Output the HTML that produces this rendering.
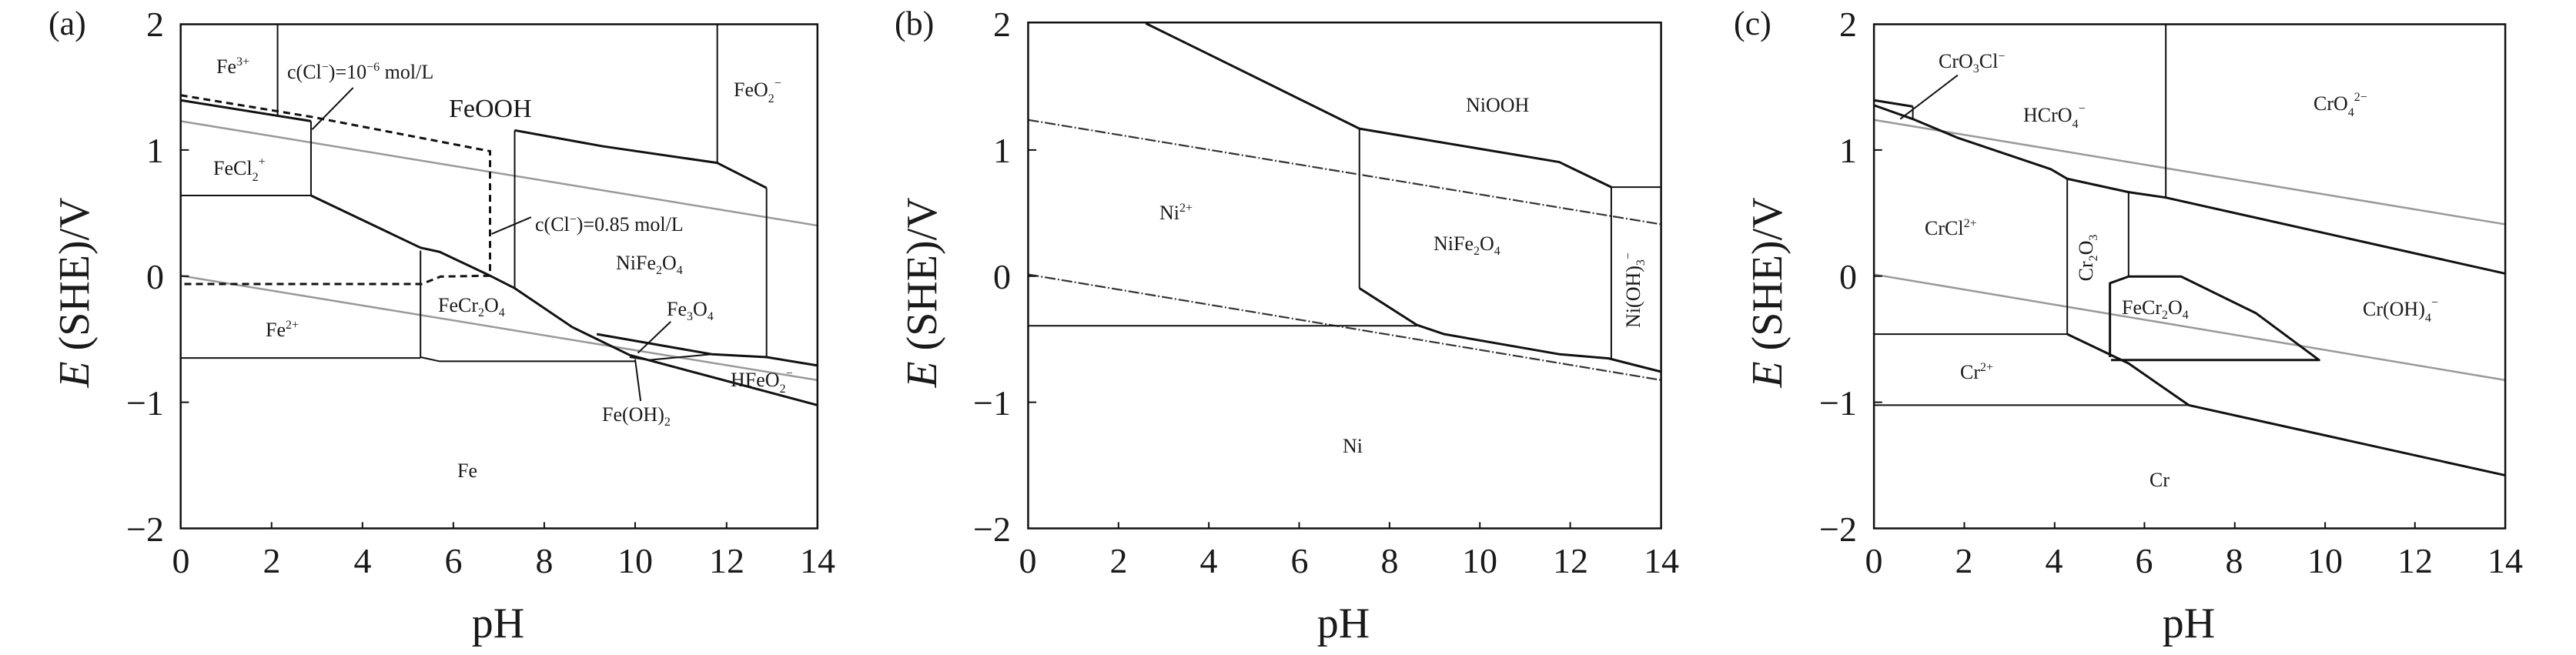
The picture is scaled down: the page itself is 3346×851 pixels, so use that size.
<!DOCTYPE html>
<html><head><meta charset="utf-8"><style>
html,body{margin:0;padding:0;background:#fff;}
svg{display:block;}
text{font-family:"Liberation Serif",serif;fill:#1a1a1a;}
.l{font-size:26px;}
.t{font-size:46px;}
.ax{font-size:56px;}
.thk{stroke:#111;stroke-width:3;fill:none;vector-effect:non-scaling-stroke;stroke-linejoin:round;}
.thn{stroke:#111;stroke-width:2;fill:none;vector-effect:non-scaling-stroke;}
.gr{stroke:#999;stroke-width:2.5;fill:none;vector-effect:non-scaling-stroke;}
.dd{stroke:#333;stroke-width:2.2;fill:none;stroke-dasharray:14 3 2 3;vector-effect:non-scaling-stroke;}
.da{stroke:#111;stroke-width:3;fill:none;stroke-dasharray:9 6;vector-effect:non-scaling-stroke;}
.frame{stroke:#111;stroke-width:2.5;fill:none;vector-effect:non-scaling-stroke;}
</style></head><body>
<svg width="3346" height="851" viewBox="0 0 3346 851" xmlns="http://www.w3.org/2000/svg">
<rect width="3346" height="851" fill="#fff"/>

<!-- PANEL A lines (zoom coordinates) -->
<g transform="translate(0,0) scale(0.7112,0.5427)">
<line class="gr" x1="330" y1="290" x2="1493" y2="540"/>
<line class="gr" x1="330" y1="660" x2="1493" y2="910"/>
<rect class="frame" x="330" y="58" width="1163" height="1207"/>
<path class="thn" d="M330,1265 v0 M496,1265 v-15 M662,1265 v-15 M828,1265 v-15 M994,1265 v-15 M1160,1265 v-15 M1327,1265 v-15 M330,359 h15 M330,661 h15 M330,963 h15"/>
<polyline class="thk" points="330,240 568,290"/>
<line class="thn" x1="568" y1="290" x2="568" y2="468"/>
<line class="thn" x1="330" y1="468" x2="568" y2="468"/>
<polyline class="thk" points="568,468 768,593 803,603 895,660 940,690 1045,783 1150,850 1493,970"/>
<polyline class="thk" points="1090,800 1300,848 1400,855 1493,875"/>
<polyline class="thn" points="1150,855 1185,862 1300,848"/>
<polyline class="thn" points="768,600 768,855 803,865 1160,865"/>
<line class="thn" x1="330" y1="857" x2="768" y2="857"/>
<line class="thn" x1="940" y1="690" x2="940" y2="312"/>
<polyline class="thk" points="940,312 1100,350 1310,390 1400,450"/>
<line class="thn" x1="1400" y1="450" x2="1400" y2="855"/>
<line class="thn" x1="1310" y1="58" x2="1310" y2="390"/>
<line class="thn" x1="507" y1="58" x2="507" y2="280"/>
<polyline class="da" points="330,228 570,280 895,362 895,660 805,662 770,680 330,680"/>
<line class="thn" x1="645" y1="210" x2="570" y2="310"/>
<line class="thn" x1="970" y1="520" x2="898" y2="560"/>
<line class="thn" x1="1225" y1="770" x2="1165" y2="845"/>
<line class="thn" x1="1160" y1="860" x2="1170" y2="960"/>
</g>

<!-- PANEL B lines -->
<g transform="translate(1115,0) scale(0.7112,0.5427)">
<line class="dd" x1="310" y1="287" x2="1466" y2="537"/>
<line class="dd" x1="310" y1="657" x2="1466" y2="910"/>
<rect class="frame" x="310" y="54" width="1156" height="1211"/>
<path class="thn" d="M475,1265 v-15 M640,1265 v-15 M805,1265 v-15 M970,1265 v-15 M1135,1265 v-15 M1300,1265 v-15 M310,359 h15 M310,661 h15 M310,963 h15"/>
<polyline class="thk" points="525,56 640,130 915,308 1280,388 1375,448"/>
<line class="thn" x1="1375" y1="448" x2="1466" y2="448"/>
<line class="thn" x1="915" y1="308" x2="915" y2="690"/>
<polyline class="thk" points="915,690 1020,778 1070,800 1280,848 1370,858 1466,890"/>
<line class="thn" x1="1375" y1="448" x2="1375" y2="858"/>
<line class="thn" x1="310" y1="780" x2="1020" y2="780"/>
</g>

<!-- PANEL C lines -->
<g transform="translate(2230,0) scale(0.7112,0.5427)">
<line class="gr" x1="287" y1="287" x2="1440" y2="537"/>
<line class="gr" x1="287" y1="657" x2="1440" y2="910"/>
<rect class="frame" x="287" y="58" width="1153" height="1207"/>
<path class="thn" d="M452,1265 v-15 M617,1265 v-15 M781,1265 v-15 M946,1265 v-15 M1111,1265 v-15 M1275,1265 v-15 M287,359 h15 M287,661 h15 M287,963 h15"/>
<polyline class="thk" points="287,240 358,255"/>
<line class="thn" x1="358" y1="255" x2="358" y2="285"/>
<polyline class="thk" points="287,252 358,285 440,330 610,405 640,428 752,460 820,473 1440,655"/>
<line class="thn" x1="440" y1="180" x2="335" y2="285"/>
<line class="thn" x1="820" y1="58" x2="820" y2="473"/>
<line class="thn" x1="640" y1="428" x2="640" y2="800"/>
<line class="thn" x1="287" y1="800" x2="640" y2="800"/>
<polyline class="thk" points="640,800 752,870 862,970 1440,1138"/>
<line class="thn" x1="287" y1="970" x2="862" y2="970"/>
<line class="thn" x1="752" y1="460" x2="752" y2="662"/>
<polyline class="thk" points="718,855 718,678 752,662 848,662 985,750 1100,862 720,862"/>
</g>

<!-- Axis tick labels and titles -->
<g class="t">
<!-- A -->
<text x="213" y="47" text-anchor="end">2</text>
<text x="213" y="211" text-anchor="end">1</text>
<text x="213" y="375" text-anchor="end">0</text>
<text x="213" y="539" text-anchor="end">−1</text>
<text x="213" y="703" text-anchor="end">−2</text>
<text x="235" y="744" text-anchor="middle">0</text>
<text x="353" y="744" text-anchor="middle">2</text>
<text x="471" y="744" text-anchor="middle">4</text>
<text x="589" y="744" text-anchor="middle">6</text>
<text x="707" y="744" text-anchor="middle">8</text>
<text x="825" y="744" text-anchor="middle">10</text>
<text x="944" y="744" text-anchor="middle">12</text>
<text x="1062" y="744" text-anchor="middle">14</text>
<!-- B -->
<text x="1313" y="47" text-anchor="end">2</text>
<text x="1313" y="211" text-anchor="end">1</text>
<text x="1313" y="375" text-anchor="end">0</text>
<text x="1313" y="539" text-anchor="end">−1</text>
<text x="1313" y="703" text-anchor="end">−2</text>
<text x="1335" y="744" text-anchor="middle">0</text>
<text x="1453" y="744" text-anchor="middle">2</text>
<text x="1570" y="744" text-anchor="middle">4</text>
<text x="1688" y="744" text-anchor="middle">6</text>
<text x="1805" y="744" text-anchor="middle">8</text>
<text x="1922" y="744" text-anchor="middle">10</text>
<text x="2040" y="744" text-anchor="middle">12</text>
<text x="2158" y="744" text-anchor="middle">14</text>
<!-- C -->
<text x="2412" y="47" text-anchor="end">2</text>
<text x="2412" y="211" text-anchor="end">1</text>
<text x="2412" y="375" text-anchor="end">0</text>
<text x="2412" y="539" text-anchor="end">−1</text>
<text x="2412" y="703" text-anchor="end">−2</text>
<text x="2434" y="744" text-anchor="middle">0</text>
<text x="2551" y="744" text-anchor="middle">2</text>
<text x="2668" y="744" text-anchor="middle">4</text>
<text x="2785" y="744" text-anchor="middle">6</text>
<text x="2902" y="744" text-anchor="middle">8</text>
<text x="3020" y="744" text-anchor="middle">10</text>
<text x="3137" y="744" text-anchor="middle">12</text>
<text x="3254" y="744" text-anchor="middle">14</text>
</g>
<g class="ax">
<text x="647" y="828" text-anchor="middle">pH</text>
<text x="1745" y="828" text-anchor="middle">pH</text>
<text x="2843" y="828" text-anchor="middle">pH</text>
<text transform="translate(115,380) rotate(-90)" text-anchor="middle"><tspan font-style="italic">E</tspan> (SHE)/V</text>
<text transform="translate(1216,380) rotate(-90)" text-anchor="middle"><tspan font-style="italic">E</tspan> (SHE)/V</text>
<text transform="translate(2314,380) rotate(-90)" text-anchor="middle"><tspan font-style="italic">E</tspan> (SHE)/V</text>
</g>
<g style="font-size:44px">
<text x="63" y="45">(a)</text>
<text x="1162" y="45">(b)</text>
<text x="2252" y="45">(c)</text>
</g>

<!-- Region labels -->
<g class="l">
<text x="281" y="95">Fe<tspan dy="-10" font-size="16">3+</tspan></text>
<text x="373" y="102">c(Cl<tspan dy="-10" font-size="16">−</tspan><tspan dy="10">)=10</tspan><tspan dy="-10" font-size="16">−6</tspan><tspan dy="10"> mol/L</tspan></text>
<text x="583" y="152" font-size="34">FeOOH</text>
<text x="953" y="125">FeO<tspan dy="8" font-size="16">2</tspan><tspan dy="-20" font-size="16">−</tspan></text>
<text x="277" y="227">FeCl<tspan dy="8" font-size="16">2</tspan><tspan dy="-20" font-size="16">+</tspan></text>
<text x="695" y="300">c(Cl<tspan dy="-10" font-size="16">−</tspan><tspan dy="10">)=0.85 mol/L</tspan></text>
<text x="800" y="350">NiFe<tspan dy="6" font-size="16">2</tspan><tspan dy="-6">O</tspan><tspan dy="6" font-size="16">4</tspan></text>
<text x="569" y="405">FeCr<tspan dy="6" font-size="16">2</tspan><tspan dy="-6">O</tspan><tspan dy="6" font-size="16">4</tspan></text>
<text x="866" y="410">Fe<tspan dy="6" font-size="16">3</tspan><tspan dy="-6">O</tspan><tspan dy="6" font-size="16">4</tspan></text>
<text x="345" y="437">Fe<tspan dy="-10" font-size="16">2+</tspan></text>
<text x="949" y="502">HFeO<tspan dy="8" font-size="16">2</tspan><tspan dy="-20" font-size="16">−</tspan></text>
<text x="782" y="547">Fe(OH)<tspan dy="6" font-size="16">2</tspan></text>
<text x="594" y="620">Fe</text>

<text x="1904" y="145">NiOOH</text>
<text x="1506" y="285">Ni<tspan dy="-10" font-size="16">2+</tspan></text>
<text x="1862" y="325">NiFe<tspan dy="6" font-size="16">2</tspan><tspan dy="-6">O</tspan><tspan dy="6" font-size="16">4</tspan></text>
<text transform="translate(2130,377) rotate(-90)" text-anchor="middle">Ni(OH)<tspan dy="6" font-size="16">3</tspan><tspan dy="-16" font-size="16">−</tspan></text>
<text x="1744" y="588">Ni</text>

<text x="2518" y="88">CrO<tspan dy="6" font-size="16">3</tspan><tspan dy="-6">Cl</tspan><tspan dy="-10" font-size="16">−</tspan></text>
<text x="2628" y="158">HCrO<tspan dy="8" font-size="16">4</tspan><tspan dy="-20" font-size="16">−</tspan></text>
<text x="3005" y="143">CrO<tspan dy="8" font-size="16">4</tspan><tspan dy="-20" font-size="16">2−</tspan></text>
<text x="2500" y="305">CrCl<tspan dy="-10" font-size="16">2+</tspan></text>
<text transform="translate(2718,335) rotate(-90)" text-anchor="middle">Cr<tspan dy="6" font-size="16">2</tspan><tspan dy="-6">O</tspan><tspan dy="6" font-size="16">3</tspan></text>
<text x="2756" y="408">FeCr<tspan dy="6" font-size="16">2</tspan><tspan dy="-6">O</tspan><tspan dy="6" font-size="16">4</tspan></text>
<text x="3069" y="410">Cr(OH)<tspan dy="8" font-size="16">4</tspan><tspan dy="-20" font-size="16">−</tspan></text>
<text x="2546" y="492">Cr<tspan dy="-10" font-size="16">2+</tspan></text>
<text x="2792" y="632">Cr</text>
</g>
</svg>
</body></html>
